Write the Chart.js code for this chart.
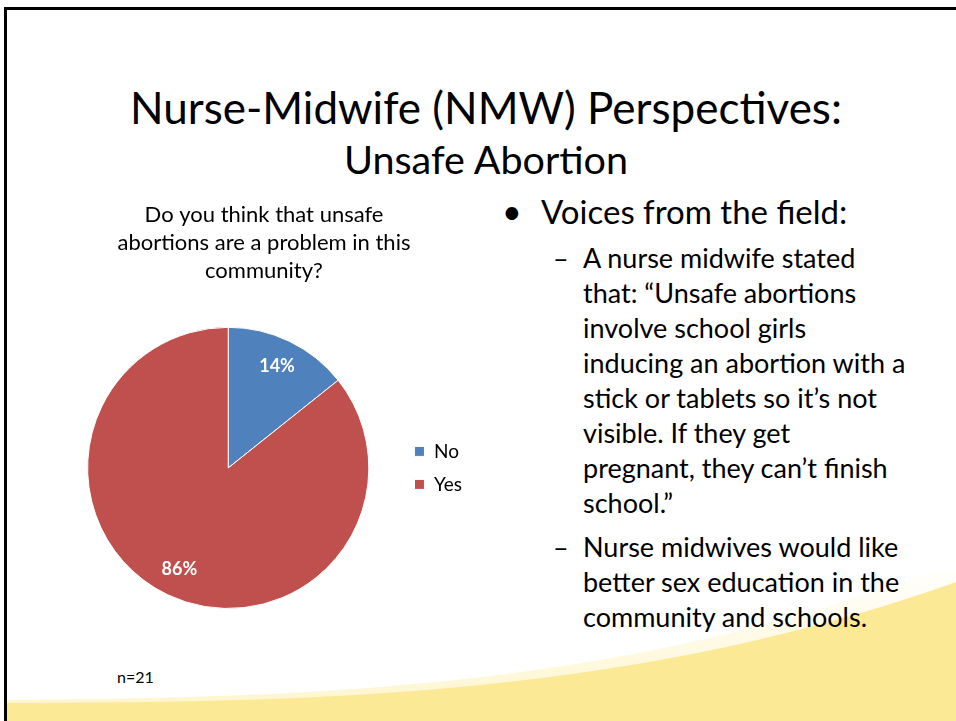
<!DOCTYPE html>
<html>
<head>
<meta charset="utf-8">
<script src="https://cdn.jsdelivr.net/npm/chart.js@4.4.1/dist/chart.umd.min.js"></script>
<style>
  body { margin: 0; background: #fff; }
  #slide { position: relative; width: 956px; height: 721px; overflow: hidden; background: #fff; font-family: Lato, sans-serif; color: #000; }
  #deco { position: absolute; left: 0; top: 0; }
  .line { position: absolute; white-space: nowrap; line-height: 1.2; }
  .sub { position: absolute; white-space: nowrap; font-size: 27px; line-height: 35px; }
  #chartBox { position: absolute; left: 40px; top: 190px; }
</style>
</head>
<body>
<div id="slide">
  <svg id="deco" width="956" height="721">
    <defs>
      <linearGradient id="fade" x1="0" y1="0" x2="0" y2="1">
        <stop offset="0" stop-color="#fdeea8" stop-opacity="0"/>
        <stop offset="1" stop-color="#fdeea8" stop-opacity="0.6"/>
      </linearGradient>
    </defs>
    <path d="M5 700 C 330 698, 640 686, 956 562 L 956 721 L 5 721 Z" fill="url(#fade)"/>
    <path d="M5 703 C 322 703, 639 695, 956 582 L 956 721 L 5 721 Z" fill="#fce995"/>
    <rect x="4" y="7" width="952" height="3" fill="#000"/>
    <rect x="4" y="7" width="3" height="714" fill="#000"/>
  </svg>

  <div class="line" style="left:0;width:972px;text-align:center;top:81px;font-size:44px;">Nurse-Midwife (NMW) Perspectives:</div>
  <div class="line" style="left:0;width:972px;text-align:center;top:135px;font-size:39.5px;">Unsafe Abortion</div>

  <div class="line" style="left:502px;top:191px;font-size:34px;">•</div>
  <div class="line" style="left:541px;top:192px;font-size:33px;">Voices from the field:</div>

  <div class="sub" style="left:553px;top:240px;">–</div>
  <div class="sub" style="left:583px;top:240px;">A nurse midwife stated<br>that: “Unsafe abortions<br>involve school girls<br>inducing an abortion with a<br>stick or tablets so it’s not<br>visible. If they get<br>pregnant, they can’t finish<br>school.”</div>

  <div class="sub" style="left:553px;top:529px;">–</div>
  <div class="sub" style="left:583px;top:529px;">Nurse midwives would like<br>better sex education in the<br>community and schools.</div>

  <div class="line" style="left:117px;top:667px;font-size:16px;">n=21</div>

  <div id="chartBox"><canvas id="pie" width="460" height="440"></canvas></div>
</div>

<script>
var categories = ["No", "Yes"];
var answers = [3, 18];
var sliceColors = ["#4f81bd", "#c0504d"];
var question = ["Do you think that unsafe", "abortions are a problem in this", "community?"];

// percentage labels inside the slices
var pctLabels = {
  id: 'pctLabels',
  afterDatasetsDraw: function(chart) {
    var ctx = chart.ctx;
    var meta = chart.getDatasetMeta(0);
    var total = answers.reduce(function(a, b){ return a + b; }, 0);
    ctx.save();
    ctx.font = "bold 18px Lato, sans-serif";
    ctx.fillStyle = "#fff";
    ctx.textAlign = "center";
    ctx.textBaseline = "middle";
    meta.data.forEach(function(arc, i){
      var mid = (arc.startAngle + arc.endAngle) / 2;
      var r = arc.outerRadius * 0.8;
      var pct = Math.round(answers[i] / total * 100) + "%";
      ctx.fillText(pct, arc.x + Math.cos(mid) * r, arc.y + Math.sin(mid) * r);
    });
    ctx.restore();
  }
};

new Chart(document.getElementById('pie'), {
  type: 'pie',
  data: {
    labels: categories,
    datasets: [{
      data: answers,
      backgroundColor: sliceColors,
      borderColor: "#ffffff",
      borderWidth: 1
    }]
  },
  options: {
    responsive: false,
    animation: false,
    devicePixelRatio: 1,
    layout: { padding: { left: 16, right: 28, top: 1, bottom: 21 } },
    plugins: {
      title: {
        display: true,
        text: question,
        color: "#000",
        font: { family: "Lato, sans-serif", size: 22, weight: 'normal', lineHeight: 1.27 },
        padding: { top: 10, bottom: 42 }
      },
      legend: {
        position: 'right',
        fullSize: false,
        labels: {
          boxWidth: 10,
          boxHeight: 10,
          padding: 14,
          color: "#000",
          font: { family: "Lato, sans-serif", size: 19 }
        }
      },
      tooltip: { enabled: false }
    }
  },
  plugins: [pctLabels]
});
</script>
</body>
</html>
